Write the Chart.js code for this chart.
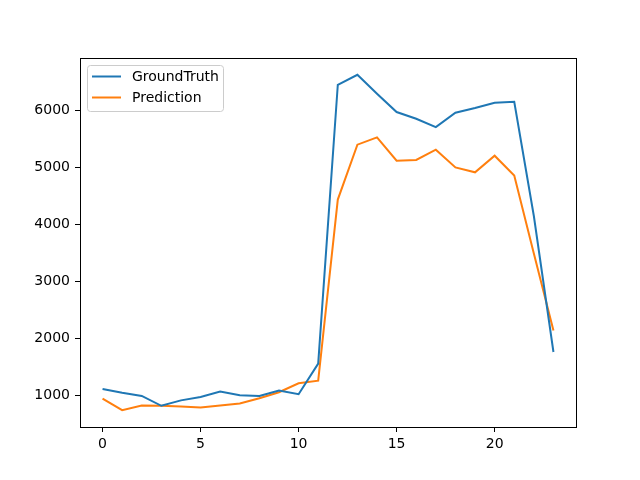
<!DOCTYPE html>
<html>
<head>
<meta charset="utf-8">
<script src="https://cdn.jsdelivr.net/npm/chart.js@4/dist/chart.umd.min.js"></script>
<style>
  body { margin: 0; background: #fff; }
  canvas { display: block; }
</style>
</head>
<body>
<canvas id="chart" width="640" height="480"></canvas>
<script>
// data
const jam = [0, 1, 2, 3, 4, 5, 6, 7, 8, 9, 10, 11, 12, 13, 14, 15, 16, 17, 18, 19, 20, 21, 22, 23];
const groundTruth = [1110, 1045, 988, 815, 910, 970, 1065, 1000, 988, 1082, 1018, 1556,
  6456, 6632, 6300, 5977, 5860, 5713, 5965, 6047, 6140, 6158, 4150, 1760];
const prediction = [942, 737, 819, 815, 801, 784, 819, 854, 947, 1053, 1210, 1257,
  4439, 5404, 5532, 5123, 5135, 5316, 5004, 4918, 5210, 4860, 3490, 2140];
const xTicks = [0, 5, 10, 15, 20];
const yTicks = [1000, 2000, 3000, 4000, 5000, 6000];

const FONT = "'DejaVu Sans', sans-serif";

function keTitik(arr) {
  return jam.map((x, i) => ({ x: x, y: arr[i] }));
}

// kotak di sekeliling area grafik + legenda ala matplotlib
const bingkai = {
  id: "bingkai",
  afterDraw(chart) {
    const { ctx, chartArea: a } = chart;
    ctx.save();
    ctx.strokeStyle = "#000";
    ctx.lineWidth = 1;
    ctx.strokeRect(Math.round(a.left) + 0.5, Math.round(a.top) + 0.5,
      Math.round(a.right - a.left), Math.round(a.bottom - a.top));

    // legenda
    const x0 = a.left + 7.5, y0 = a.top + 7.5, w = 136, h = 46;
    ctx.fillStyle = "rgba(255,255,255,0.8)";
    ctx.strokeStyle = "#cccccc";
    ctx.beginPath();
    ctx.roundRect(x0, y0, w, h, 3);
    ctx.fill();
    ctx.stroke();

    const items = chart.data.datasets;
    ctx.font = "14px " + FONT;
    ctx.textBaseline = "middle";
    items.forEach((d, i) => {
      const yy = a.top + 18.5 + i * 21;
      ctx.strokeStyle = d.borderColor;
      ctx.lineWidth = 2;
      ctx.beginPath();
      ctx.moveTo(a.left + 12, yy);
      ctx.lineTo(a.left + 41, yy);
      ctx.stroke();
      ctx.fillStyle = "#000";
      ctx.fillText(d.label, a.left + 52, yy + 1);
    });
    ctx.restore();
  },
};

new Chart(document.getElementById("chart"), {
  type: "line",
  data: {
    datasets: [
      {
        label: "GroundTruth",
        data: keTitik(groundTruth),
        borderColor: "#1f77b4",
        borderWidth: 2,
        pointRadius: 0,
        tension: 0,
      },
      {
        label: "Prediction",
        data: keTitik(prediction),
        borderColor: "#ff7f0e",
        borderWidth: 2,
        pointRadius: 0,
        tension: 0,
      },
    ],
  },
  options: {
    responsive: false,
    animation: false,
    devicePixelRatio: 1,
    layout: { padding: { top: 58, right: 64, left: 0, bottom: 0 } },
    plugins: { legend: { display: false }, tooltip: { enabled: false } },
    scales: {
      x: {
        type: "linear",
        min: -1.15,
        max: 24.15,
        afterBuildTicks: (s) => { s.ticks = xTicks.map((v) => ({ value: v })); },
        afterFit: (s) => { s.height = 53; },
        grid: { drawOnChartArea: false, tickLength: 5, color: "#000", tickWidth: 1 },
        border: { display: false },
        ticks: { color: "#000", padding: 4, maxRotation: 0, font: { family: FONT, size: 14 },
          callback: (v) => String(v) },
      },
      y: {
        min: 442,
        max: 6927,
        afterBuildTicks: (s) => { s.ticks = yTicks.map((v) => ({ value: v })); },
        afterFit: (s) => { s.width = 80; },
        grid: { drawOnChartArea: false, tickLength: 5, color: "#000", tickWidth: 1 },
        border: { display: false },
        ticks: { color: "#000", padding: 5, font: { family: FONT, size: 14 },
          callback: (v) => String(v) },
      },
    },
  },
  plugins: [bingkai],
});
</script>
</body>
</html>
